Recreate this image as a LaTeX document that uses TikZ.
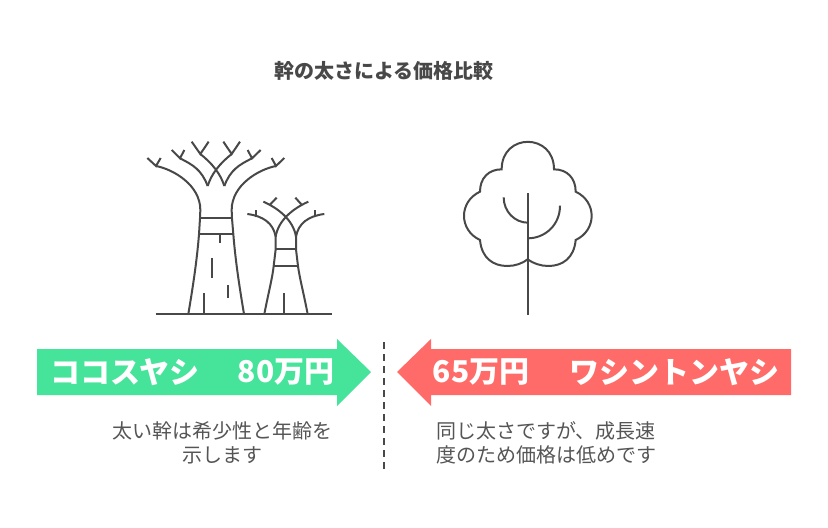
\documentclass[tikz,border=0pt]{standalone}
\usepackage{fontspec}
\setmainfont{Noto Sans CJK JP}
\definecolor{inkgrey}{HTML}{484848}
\definecolor{notegrey}{HTML}{555555}
\definecolor{cocosgreen}{HTML}{46E39A}
\definecolor{washred}{HTML}{FF6B68}
\tikzset{
    treeline/.style={draw=inkgrey, line width=1.5pt},
    bandtext/.style={text=white, font=\fontsize{22.5pt}{26pt}\selectfont\bfseries, inner sep=0pt},
    notetext/.style={text=notegrey, font=\fontsize{15pt}{18pt}\selectfont, inner sep=0pt},
    titletext/.style={text=inkgrey, font=\fontsize{15pt}{18pt}\selectfont\bfseries, inner sep=0pt}
}
\begin{document}
\begin{tikzpicture}[x=0.75pt, y=-0.75pt]
    \useasboundingbox (0,0) rectangle (828,528);

    \node [titletext] (title) at (384,71) {幹の太さによる価格比較};

    % big and small baobab
    \begin{scope}[shift={(130,130)}, scale=1/3]
        \draw[treeline] (77,552) -- (607,552);
        \draw[treeline] (175,552) .. controls (187,480) and (200,400) .. (207,313) -- (210,265) -- (211,240) .. controls (211,165) and (130,118) .. (78,108);
        \draw[treeline] (342,552) .. controls (330,480) and (317,400) .. (310,313) -- (306,265) -- (305,240) .. controls (305,165) and (386,118) .. (438,108);
        \draw[treeline] (52,84) -- (78,108) -- (92,84);
        \draw[treeline] (463,84) -- (438,108) -- (425,84);
        \draw[treeline] (233,168) .. controls (215,120) and (190,105) .. (150,85);
        \draw[treeline] (283,168) .. controls (301,120) and (326,105) .. (366,85);
        \draw[treeline] (125,60) -- (150,85) -- (163,60);
        \draw[treeline] (392,60) -- (366,85) -- (353,60);
        \draw[treeline] (233,168) .. controls (245,130) and (270,100) .. (305,72);
        \draw[treeline] (283,168) .. controls (271,130) and (246,100) .. (211,72);
        \draw[treeline] (280,35) -- (305,72) -- (330,35);
        \draw[treeline] (185,35) -- (211,72) -- (236,35);
        \draw[treeline] (210,265) -- (306,265);
        \draw[treeline] (207,313) -- (310,313);
        \draw[treeline] (269,313) -- (269,338);
        \draw[treeline] (246,383) -- (246,445);
        \draw[treeline] (294,466) -- (294,505);
        \draw[treeline] (221,490) -- (221,552);

        \draw[treeline] (403,552) .. controls (415,490) and (428,440) .. (431,408) -- (437,358) -- (437,320) .. controls (430,280) and (400,258) .. (352,252);
        \draw[treeline] (533,552) .. controls (521,490) and (508,440) .. (504,408) -- (498,358) -- (498,320) .. controls (505,280) and (535,258) .. (583,252);
        \draw[treeline] (437,320) .. controls (445,270) and (490,235) .. (535,215);
        \draw[treeline] (498,320) .. controls (490,270) and (445,235) .. (400,215);
        \draw[treeline] (378,262) -- (378,239);
        \draw[treeline] (556,262) -- (556,239);
        \draw[treeline] (420,224) -- (440,203);
        \draw[treeline] (515,224) -- (496,203);
        \draw[treeline] (437,358) -- (498,358);
        \draw[treeline] (431,408) -- (504,408);
        \draw[treeline] (462,490) -- (462,552);
    \end{scope}

    % round tree
    \begin{scope}[shift={(450,130)}, scale=1/3]
        \draw[treeline] (233,388) .. controls (218,400) and (195,408) .. (172,408) .. controls (130,408) and (95,385) .. (90,330) .. controls (26,300) and (26,215) .. (90,185) .. controls (90,145) and (115,118) .. (155,118) .. controls (155,8) and (312,8) .. (312,118) .. controls (352,118) and (377,145) .. (377,185) .. controls (441,215) and (441,300) .. (377,330) .. controls (372,385) and (337,408) .. (295,408) .. controls (272,408) and (249,400) .. (233,388);
        \draw[treeline] (233,190) -- (233,555);
        \draw[treeline] (161,202) .. controls (161,245) and (195,278) .. (233,278);
        \draw[treeline] (330,227) .. controls (330,285) and (285,325) .. (233,325);
    \end{scope}

    % price arrows
    \fill[cocosgreen] (37,349) -- (337,349) -- (337,339) -- (371,372) -- (337,406) -- (337,395) -- (37,395) -- cycle;
    \fill[washred] (791,349) -- (431,349) -- (431,339) -- (397,372) -- (431,406) -- (431,395) -- (791,395) -- cycle;

    \node [bandtext] (cocosname) at (125,372) {ココスヤシ};
    \node [bandtext] (cocosprice) at (286,372) {80万円};
    \node [bandtext] (washprice) at (481,372) {65万円};
    \node [bandtext] (washname) at (674,372) {ワシントンヤシ};

    \node [notetext, align=center] (cocosnote) at (222.5,443) {太い幹は希少性と年齢を\\示します};
    \node [notetext, align=left, anchor=west] (washnote) at (436,443) {同じ太さですが、成長速\\度のため価格は低めです};

    \coordinate (divtop) at (384,342);
    \coordinate (divbottom) at (384,469);
    \draw[treeline, dash pattern=on 5.25pt off 3.75pt] (divtop) -- (divbottom);
\end{tikzpicture}
\end{document}
